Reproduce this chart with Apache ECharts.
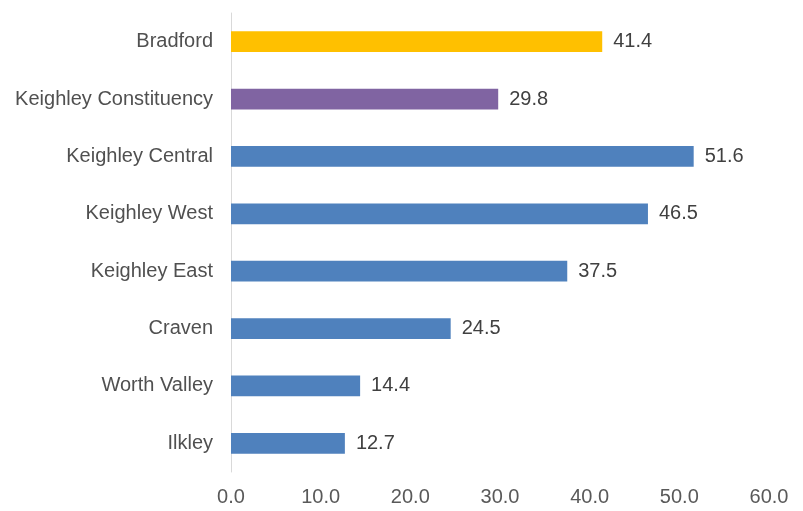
<!DOCTYPE html>
<html><head><meta charset="utf-8">
<script src="https://cdn.jsdelivr.net/npm/echarts@6/dist/echarts.min.js"></script>
<style>html,body{margin:0;padding:0;background:#fff}#c{width:803px;height:511px}</style>
</head><body><div id="c"></div>
<script>
const categories = ["Bradford","Keighley Constituency","Keighley Central","Keighley West","Keighley East","Craven","Worth Valley","Ilkley"];
const values = [41.4, 29.8, 51.6, 46.5, 37.5, 24.5, 14.4, 12.7];
const barColors = ["#FFC000","#8064A2","#4F81BD","#4F81BD","#4F81BD","#4F81BD","#4F81BD","#4F81BD"];
const xTicks = [0, 10, 20, 30, 40, 50, 60];

const chart = echarts.init(document.getElementById('c'));
chart.setOption({
  animation: false,
  grid: {left: 231, right: 34, top: 13, bottom: 39, containLabel: false},
  xAxis: {
    type: 'value', min: xTicks[0], max: xTicks[xTicks.length-1], interval: 10,
    axisLine: {show: false}, axisTick: {show: false}, splitLine: {show: false},
    axisLabel: {formatter: v => v.toFixed(1), color: '#595959', fontSize: 20, fontFamily: 'Liberation Sans, Arial', margin: 15}
  },
  yAxis: {
    type: 'category', data: categories, inverse: true,
    axisLine: {show: true, lineStyle: {color: '#D9D9D9', width: 1}},
    axisTick: {show: false},
    axisLabel: {color: '#505050', fontSize: 20, fontFamily: 'Liberation Sans, Arial', margin: 18}
  },
  series: [{
    type: 'bar',
    data: values.map((v, i) => ({value: v, itemStyle: {color: barColors[i]}})),
    barWidth: '36%',
    label: {show: true, position: 'right', distance: 11, formatter: p => p.value.toFixed(1), color: '#404040', fontSize: 20, fontFamily: 'Liberation Sans, Arial'}
  }]
});
</script></body></html>
